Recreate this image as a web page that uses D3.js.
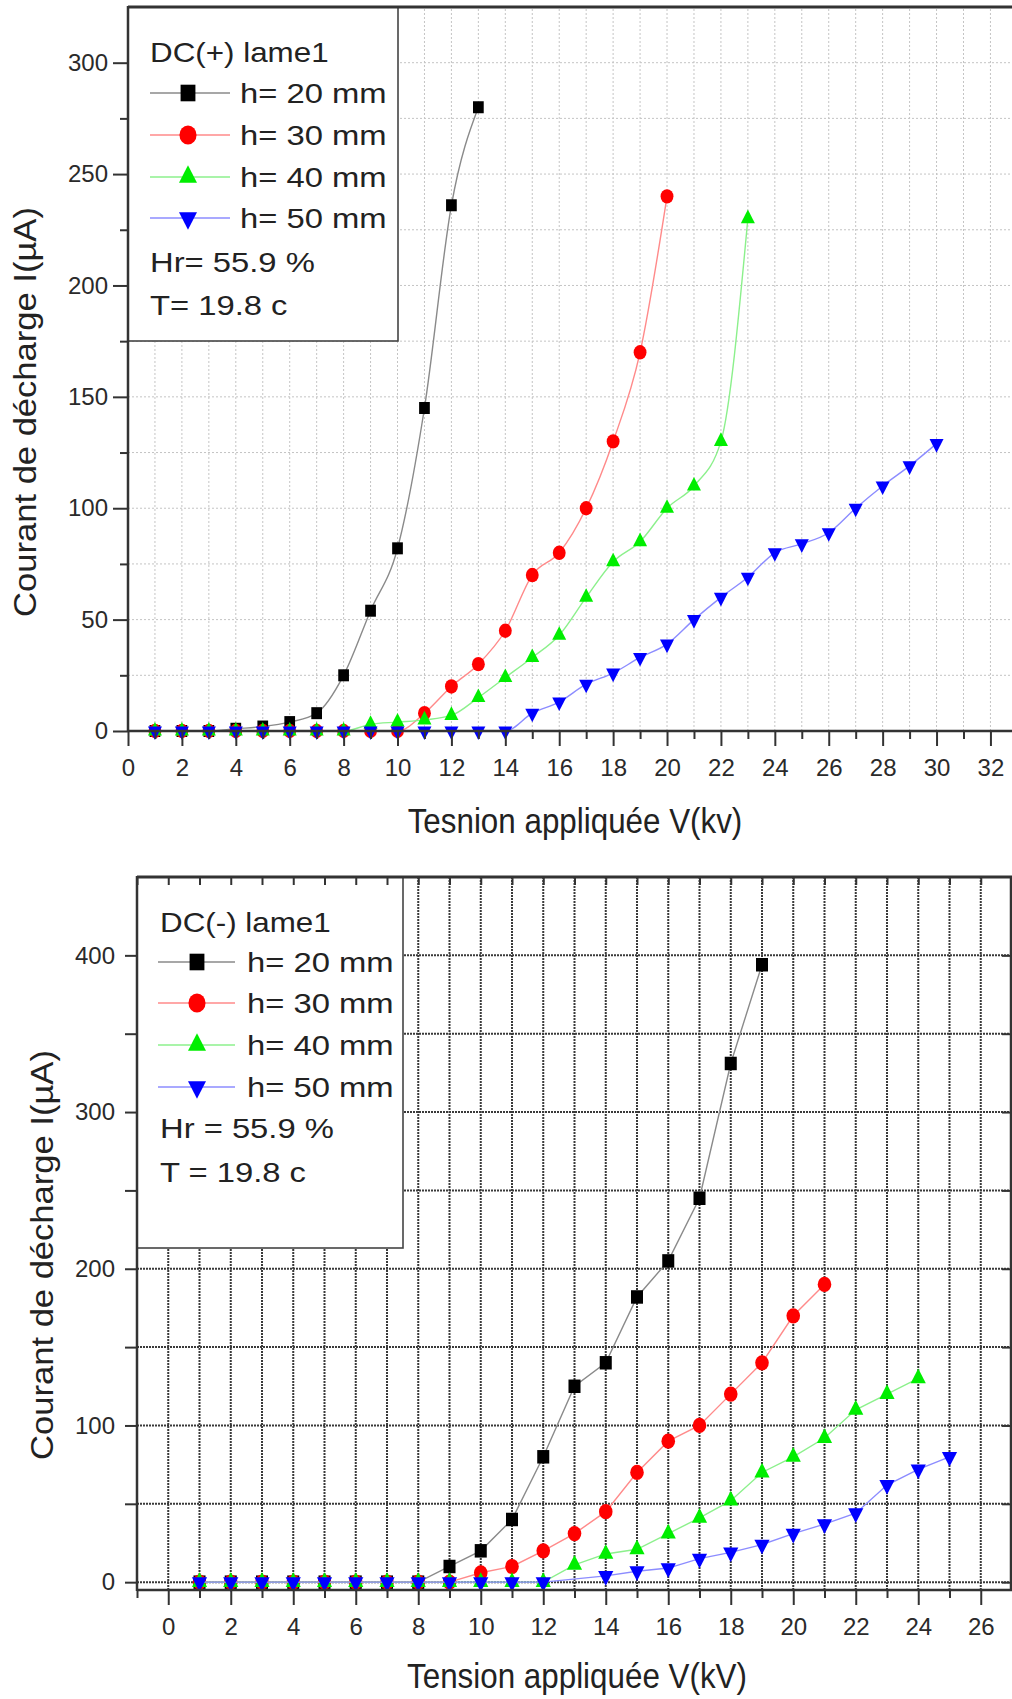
<!DOCTYPE html>
<html>
<head>
<meta charset="utf-8">
<script src="https://cdn.jsdelivr.net/npm/d3@7"></script>
<style>
  html, body { margin: 0; padding: 0; background: #fff; }
  svg { display: block; font-family: "Liberation Sans", Arial, sans-serif; }
</style>
</head>
<body>
<svg id="fig" width="1012" height="1699"></svg>
<script>
// ---- DC(+) lame1 : values ----
var xPlus20 = [1,2,3,4,5,6,7,8,9,10,11,12,13];
var yPlus20 = [0,0,0,1,2,4,8,25,54,82,145,236,280];
var xPlus30 = [1,2,3,4,5,6,7,8,9,10,11,12,13,14,15,16,17,18,19,20];
var yPlus30 = [0,0,0,0,0,0,0,0,0,0,8,20,30,45,70,80,100,130,170,240];
var xPlus40 = [1,2,3,4,5,6,7,8,9,10,11,12,13,14,15,16,17,18,19,20,21,22,23];
var yPlus40 = [0,0,0,0,0,0,0,0,3,4,5,7,15,24,33,43,60,76,85,100,110,130,230];
var xPlus50 = [1,2,3,4,5,6,7,8,9,10,11,12,13,14,15,16,17,18,19,20,21,22,23,24,25,26,27,28,29,30];
var yPlus50 = [0,0,0,0,0,0,0,0,0,0,0,0,0,0,8,13,21,26,33,39,50,60,69,80,84,89,100,110,119,129];

// ---- DC(-) lame1 : values ----
var xMinus20 = [1,2,3,4,5,6,7,8,9,10,11,12,13,14,15,16,17,18,19];
var yMinus20 = [0,0,0,0,0,0,0,0,10,20,40,80,125,140,182,205,245,331,394];
var xMinus30 = [1,2,3,4,5,6,7,8,9,10,11,12,13,14,15,16,17,18,19,20,21];
var yMinus30 = [0,0,0,0,0,0,0,0,0,6,10,20,31,45,70,90,100,120,140,170,190];
var xMinus40 = [1,2,3,4,5,6,7,8,9,10,11,12,13,14,15,16,17,18,19,20,21,22,23,24];
var yMinus40 = [0,0,0,0,0,0,0,0,0,0,0,0,11,18,21,31,41,52,70,80,92,110,120,130];
var xMinus50 = [1,2,3,4,5,6,7,8,9,10,11,12,14,15,16,17,18,19,20,21,22,23,24,25];
var yMinus50 = [0,0,0,0,0,0,0,0,0,0,0,0,4,7,9,15,19,24,31,37,44,62,72,80];

var seriesNames = ["h= 20 mm", "h= 30 mm", "h= 40 mm", "h= 50 mm"];
var xTicksPlus = [0,2,4,6,8,10,12,14,16,18,20,22,24,26,28,30,32];
var yTicksPlus = [0,50,100,150,200,250,300];
var xTicksMinus = [0,2,4,6,8,10,12,14,16,18,20,22,24,26];
var yTicksMinus = [0,100,200,300,400];

var styles = [
  { type: d3.symbolSquare,   fill: "#000000", line: "#8a8a8a", rot: 0,   lsize: 220 },
  { type: d3.symbolCircle,   fill: "#ff0000", line: "#ff8a8a", rot: 0,   lsize: 230 },
  { type: d3.symbolTriangle, fill: "#00ee00", line: "#8cf08c", rot: 0,   lsize: 140 },
  { type: d3.symbolTriangle, fill: "#0000ff", line: "#8c8cff", rot: 180, lsize: 140 }
];

var svg = d3.select("#fig");

function txt(g, s, x, y, o) {
  o = o || {};
  return g.append("text")
    .attr("transform", "translate(" + x + "," + y + ")" + (o.rot ? " rotate(" + o.rot + ")" : "") +
          " scale(" + (o.sx || 1) + "," + (o.sy || 1) + ")")
    .attr("font-size", o.fs || 24)
    .attr("text-anchor", o.anchor || "start")
    .attr("fill", "#222")
    .text(s);
}

function marker(g, st, x, y, size) {
  g.append("path")
    .attr("d", d3.symbol().type(st.type).size(size)())
    .attr("transform", "translate(" + x + "," + y + ") scale(1,1.12) rotate(" + st.rot + ")")
    .attr("fill", st.fill);
}

function styleAxis(g, fs) {
  g.select(".domain").remove();
  g.selectAll(".tick line").attr("stroke", "#333").attr("stroke-width", 2);
  g.selectAll(".tick text").attr("font-size", fs).attr("fill", "#2a2a2a")
    .attr("font-family", "Liberation Sans, Arial, sans-serif");
}

function panel(c) {
  var g = svg.append("g");
  var x = c.x, y = c.y;
  var x0 = x.range()[0], x1 = x.range()[1], y0 = y.range()[0], y1 = y.range()[1];

  // grid
  var grid = g.append("g").attr("stroke", c.gridColor).attr("stroke-width", c.gridWidth)
    .attr("stroke-dasharray", c.gridDash);
  c.gridX.forEach(function (v) {
    grid.append("line").attr("x1", x(v)).attr("x2", x(v)).attr("y1", y0).attr("y2", y1);
  });
  c.gridY.forEach(function (v) {
    grid.append("line").attr("x1", x0).attr("x2", x1).attr("y1", y(v)).attr("y2", y(v));
  });

  // series
  var line = d3.line().curve(c.curve).x(function (d) { return x(d[0]); }).y(function (d) { return y(d[1]); });
  c.series.forEach(function (s, i) {
    var pts = s.x.map(function (v, k) { return [v, s.y[k]]; });
    g.append("path").attr("d", line(pts)).attr("fill", "none")
      .attr("stroke", styles[i].line).attr("stroke-width", 1.4);
    pts.forEach(function (p) { marker(g, styles[i], x(p[0]), y(p[1]), c.msize[i]); });
  });

  // legend
  var L = c.legend;
  g.append("rect").attr("x", L.x).attr("y", L.y).attr("width", L.w).attr("height", L.h)
    .attr("fill", "#fff").attr("stroke", "#444").attr("stroke-width", 1.6);
  var lo = { fs: 28, sx: 1.17 };
  txt(g, L.title, L.tx, L.titleY, { fs: 28, sx: 1.12 });
  seriesNames.forEach(function (n, i) {
    var ry = L.rows[i];
    g.append("line").attr("x1", L.lx0).attr("x2", L.lx1).attr("y1", ry).attr("y2", ry)
      .attr("stroke", styles[i].line).attr("stroke-width", 1.5);
    marker(g, styles[i], L.mx, ry, styles[i].lsize);
    txt(g, n, L.nx, ry + 10, lo);
  });
  txt(g, L.hr, L.tx, L.hrY, lo);
  txt(g, L.t, L.tx, L.tY, lo);

  // axes
  var ax = g.append("g").attr("transform", "translate(0," + c.axisY + ")");
  ax.call(d3.axisBottom(x).tickValues(c.xMinor).tickSize(8).tickFormat(""));
  styleAxis(ax, 24);
  var axM = g.append("g").attr("transform", "translate(0," + c.axisY + ")");
  axM.call(d3.axisBottom(x).tickValues(c.xTicks).tickSize(15).tickPadding(c.xPad).tickFormat(d3.format("d")));
  styleAxis(axM, 24);

  var ay = g.append("g").attr("transform", "translate(" + x0 + ",0)");
  ay.call(d3.axisLeft(y).tickValues(c.yMinor).tickSize(c.yMinorLen).tickFormat(""));
  styleAxis(ay, 24);
  var ayM = g.append("g").attr("transform", "translate(" + x0 + ",0)");
  ayM.call(d3.axisLeft(y).tickValues(c.yTicks).tickSize(c.yMajorLen).tickPadding(c.yPad).tickFormat(d3.format("d")));
  styleAxis(ayM, 24);

  if (c.inner) {
    var top = g.append("g").attr("transform", "translate(0," + y1 + ")");
    top.call(d3.axisBottom(x).tickValues(c.xTicks.concat(c.xMinor)).tickSize(8).tickFormat(""));
    styleAxis(top, 24);
    var right = g.append("g").attr("transform", "translate(" + x1 + ",0)");
    right.call(d3.axisLeft(y).tickValues(c.yTicks.concat(c.yMinor)).tickSize(10).tickFormat(""));
    styleAxis(right, 24);
    g.append("line").attr("x1", x1 - 1).attr("x2", x1 - 1).attr("y1", y1).attr("y2", c.axisY)
      .attr("stroke", "#333").attr("stroke-width", 2.5);
  }

  // frame lines
  g.append("line").attr("x1", x0).attr("x2", x1).attr("y1", c.axisY).attr("y2", c.axisY)
    .attr("stroke", "#333").attr("stroke-width", 2.5);
  g.append("line").attr("x1", x0).attr("x2", x0).attr("y1", y1 - 1).attr("y2", c.axisY + 1)
    .attr("stroke", "#333").attr("stroke-width", 2.5);
  g.append("line").attr("x1", x0).attr("x2", x1).attr("y1", y1).attr("y2", y1)
    .attr("stroke", "#333").attr("stroke-width", 3);

  // titles
  txt(g, c.xTitle, c.xTitlePos[0], c.xTitlePos[1], { fs: 32, sx: 0.98, sy: 1.1, anchor: "middle" });
  txt(g, "Courant de décharge I(µA)", c.yTitlePos[0], c.yTitlePos[1],
      { fs: 32, sx: 1.08, rot: -90, anchor: "middle" });
}

// ---- upper plot : DC(+) ----
panel({
  x: d3.scaleLinear().domain([0, 32.8]).range([128, 1012]),
  y: d3.scaleLinear().domain([0, 325]).range([731, 7]),
  axisY: 731,
  curve: d3.curveMonotoneX,
  series: [
    { x: xPlus20, y: yPlus20 }, { x: xPlus30, y: yPlus30 },
    { x: xPlus40, y: yPlus40 }, { x: xPlus50, y: yPlus50 }
  ],
  msize: [115, 130, 85, 85],
  gridX: d3.range(1, 33), gridY: d3.range(25, 325, 25),
  gridColor: "#c4c4c4", gridWidth: 1, gridDash: "2,2",
  xTicks: xTicksPlus, xMinor: d3.range(1, 33, 2), xPad: 13,
  yTicks: yTicksPlus, yMinor: d3.range(25, 325, 50), yPad: 5, yMajorLen: 15, yMinorLen: 8,
  legend: { x: 128, y: 7, w: 270, h: 334, tx: 150, titleY: 62, title: "DC(+) lame1",
            rows: [93, 135, 177, 218], lx0: 150, lx1: 230, mx: 188, nx: 240,
            hr: "Hr= 55.9 %", hrY: 272, t: "T= 19.8 c", tY: 315 },
  xTitle: "Tesnion appliquée V(kv)", xTitlePos: [575, 833],
  yTitlePos: [36, 412]
});

// ---- lower plot : DC(-) ----
panel({
  x: d3.scaleLinear().domain([-1, 27]).range([137, 1012]),
  y: d3.scaleLinear().domain([-5, 450]).range([1590, 877]),
  axisY: 1590,
  curve: d3.curveLinear,
  series: [
    { x: xMinus20, y: yMinus20 }, { x: xMinus30, y: yMinus30 },
    { x: xMinus40, y: yMinus40 }, { x: xMinus50, y: yMinus50 }
  ],
  msize: [145, 145, 100, 100],
  gridX: d3.range(0, 27), gridY: d3.range(0, 450, 50),
  gridColor: "#3a3a3a", gridWidth: 2, gridDash: "2,1",
  xTicks: xTicksMinus, xMinor: d3.range(-1, 27, 2), xPad: 13,
  yTicks: yTicksMinus, yMinor: d3.range(50, 450, 100), yPad: 10, yMajorLen: 12, yMinorLen: 12,
  inner: true,
  legend: { x: 137, y: 877, w: 266, h: 371, tx: 160, titleY: 932, title: "DC(-) lame1",
            rows: [962, 1003, 1045, 1087], lx0: 158, lx1: 235, mx: 197, nx: 247,
            hr: "Hr = 55.9 %", hrY: 1138, t: "T = 19.8 c", tY: 1182 },
  xTitle: "Tension appliquée V(kV)", xTitlePos: [577, 1688],
  yTitlePos: [53, 1255]
});
</script>
</body>
</html>
